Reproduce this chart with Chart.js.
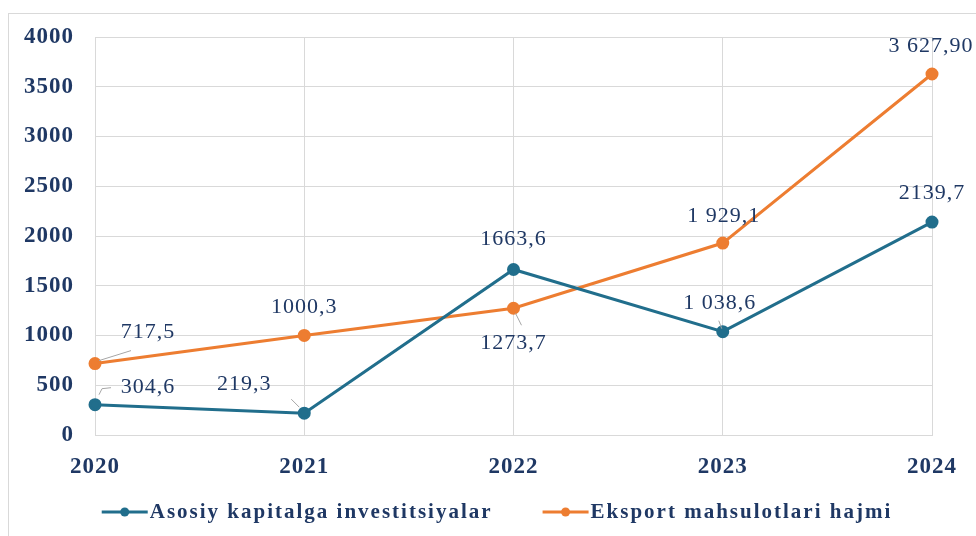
<!DOCTYPE html>
<html>
<head>
<meta charset="utf-8">
<script src="https://cdn.jsdelivr.net/npm/chart.js@4.4.3/dist/chart.umd.min.js"></script>
<style>
  html, body { margin: 0; padding: 0; background: #fff; overflow: hidden; }
  body { width: 976px; height: 536px; position: relative; }
  #frame { position: absolute; left: 8px; top: 13px; width: 1000px; height: 560px; border: 1px solid #d9d9d9; }
  #chart { position: absolute; left: 0; top: 0; }
</style>
</head>
<body>
<div id="frame"></div>
<canvas id="chart" width="976" height="536"></canvas>
<script>
// ── Data ────────────────────────────────────────────────────────────────────
const years = ['2020', '2021', '2022', '2023', '2024'];
const investValues = [304.6, 219.3, 1663.6, 1038.6, 2139.7];
const exportValues = [717.5, 1000.3, 1273.7, 1929.1, 3627.9];
const investLabels = ['304,6', '219,3', '1663,6', '1 038,6', '2139,7'];
const exportLabels = ['717,5', '1000,3', '1273,7', '1 929,1', '3 627,90'];
const yTicks = [0, 500, 1000, 1500, 2000, 2500, 3000, 3500, 4000];

// ── Style ───────────────────────────────────────────────────────────────────
const NAVY = '#1f3864';
const BLUE = '#216e8c';
const ORANGE = '#ed7d31';
const GRID = '#d9d9d9';
const LEADER = '#a6a6a6';
const SERIF = "'Liberation Serif', 'Times New Roman', serif";

// label placement per point: [dx, dy] of text centre, optional leader polyline (relative to point)
const labelPlacement = {
  0: [
    { dx: 53, dy: -17, leader: [[4, -10], [7, -16], [16, -17]] },
    { dx: -60, dy: -29, leader: [[-13, -14], [-5, -6]] },
    { dx: 0, dy: -30 },
    { dx: -3, dy: -28, leader: [[-4, -11], [-1, -3]] },
    { dx: 0, dy: -29 },
  ],
  1: [
    { dx: 53, dy: -31, leader: [[4, -3], [36, -13]] },
    { dx: 0, dy: -28 },
    { dx: 0, dy: 35, leader: [[2, 5], [8, 17]] },
    { dx: 1, dy: -27 },
    { dx: -1, dy: -28 },
  ],
};

// wider letter spacing for axis text, as in the source picture
const spacingPlugin = {
  id: 'spacing',
  beforeLayout(chart) { chart.ctx.letterSpacing = '1px'; },
  beforeDraw(chart) { chart.ctx.letterSpacing = '1px'; },
};

const dataLabelPlugin = {
  id: 'dataLabels',
  afterDatasetsDraw(chart) {
    const ctx = chart.ctx;
    chart.data.datasets.forEach((ds, di) => {
      const meta = chart.getDatasetMeta(di);
      meta.data.forEach((pt, i) => {
        const p = labelPlacement[di][i];
        ctx.save();
        if (p.leader) {
          ctx.strokeStyle = LEADER;
          ctx.lineWidth = 1;
          ctx.beginPath();
          p.leader.forEach(([lx, ly], k) => {
            if (k === 0) ctx.moveTo(pt.x + lx, pt.y + ly);
            else ctx.lineTo(pt.x + lx, pt.y + ly);
          });
          ctx.stroke();
        }
        ctx.font = `22px ${SERIF}`;
        ctx.letterSpacing = '1px';
        ctx.fillStyle = NAVY;
        ctx.textAlign = 'center';
        ctx.textBaseline = 'middle';
        ctx.fillText(ds.valueLabels[i], pt.x + p.dx, pt.y + p.dy);
        ctx.restore();
      });
    });
  },
};

const legendPlugin = {
  id: 'lineLegend',
  afterDraw(chart) {
    const ctx = chart.ctx;
    const y = 512;
    const symW = 46, gap = 2, itemGap = 50;
    ctx.save();
    ctx.font = `bold 21px ${SERIF}`;
    ctx.letterSpacing = '2px';
    const widths = chart.data.datasets.map(ds => ctx.measureText(ds.label).width);
    const total = widths.reduce((a, w) => a + symW + gap + w, 0) + itemGap;
    let x = chart.width / 2 + 9 - total / 2;
    chart.data.datasets.forEach((ds, i) => {
      ctx.strokeStyle = ds.borderColor;
      ctx.lineWidth = 3;
      ctx.beginPath();
      ctx.moveTo(x, y);
      ctx.lineTo(x + symW, y);
      ctx.stroke();
      ctx.fillStyle = ds.borderColor;
      ctx.beginPath();
      ctx.arc(x + symW / 2, y, 4.5, 0, Math.PI * 2);
      ctx.fill();
      ctx.fillStyle = NAVY;
      ctx.textAlign = 'left';
      ctx.textBaseline = 'middle';
      ctx.fillText(ds.label, x + symW + gap, y + 1);
      x += symW + gap + widths[i] + itemGap;
    });
    ctx.restore();
  },
};

const tickFont = { family: SERIF, size: 23, weight: 'bold' };

new Chart(document.getElementById('chart'), {
  type: 'line',
  data: {
    labels: years,
    datasets: [
      {
        label: 'Asosiy kapitalga investitsiyalar',
        data: investValues,
        valueLabels: investLabels,
        borderColor: BLUE,
        backgroundColor: BLUE,
        pointBackgroundColor: BLUE,
        pointBorderColor: BLUE,
        borderWidth: 3,
        pointRadius: 5,
        tension: 0,
      },
      {
        label: 'Eksport mahsulotlari hajmi',
        data: exportValues,
        valueLabels: exportLabels,
        borderColor: ORANGE,
        backgroundColor: ORANGE,
        pointBackgroundColor: ORANGE,
        pointBorderColor: ORANGE,
        borderWidth: 3,
        pointRadius: 5,
        tension: 0,
      },
    ],
  },
  options: {
    responsive: false,
    animation: false,
    layout: { padding: { top: 37, right: 44, bottom: 31, left: 0 } },
    plugins: { legend: { display: false }, tooltip: { enabled: false } },
    scales: {
      x: {
        offset: false,
        grid: { color: GRID, drawTicks: false },
        border: { color: GRID },
        ticks: { color: NAVY, font: tickFont, padding: 18, maxRotation: 0 },
        afterFit: s => { s.height = 70; },
      },
      y: {
        min: 0,
        max: 4000,
        afterBuildTicks: s => { s.ticks = yTicks.map(v => ({ value: v })); },
        grid: { color: GRID, drawTicks: false },
        border: { color: GRID },
        ticks: { color: NAVY, font: tickFont, padding: 21, callback: v => String(v) },
        afterFit: s => { s.width = 95; },
      },
    },
  },
  plugins: [spacingPlugin, dataLabelPlugin, legendPlugin],
});
</script>
</body>
</html>
